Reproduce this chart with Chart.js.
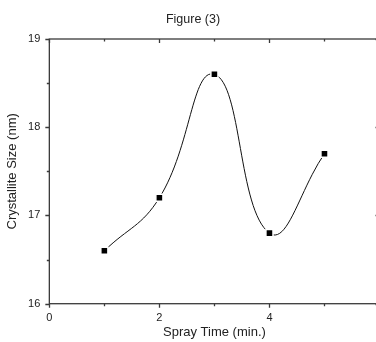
<!DOCTYPE html>
<html>
<head>
<meta charset="utf-8">
<script src="https://cdn.jsdelivr.net/npm/chart.js@4/dist/chart.umd.min.js"></script>
<style>
  html, body { margin: 0; padding: 0; background: #fff; overflow: hidden; }
  #wrap { width: 386px; height: 342px; }
</style>
</head>
<body>
<div id="wrap"><canvas id="chart"></canvas></div>
<script>
// Figure (3): crystallite size vs spray time
const sprayTime = [1, 2, 3, 4, 5];
const crystalliteSize = [16.6, 17.2, 18.6, 16.8, 17.7];
const xLabels = [0, 2, 4, 6];
const yLabels = [16, 17, 18, 19];

// box round the plot, ticks out on bottom/left, in on top/right
const frame = {
  id: 'frame',
  afterDatasetsDraw(chart) {
    const { ctx, chartArea: a, scales: { x, y } } = chart;
    ctx.save();
    ctx.strokeStyle = '#3a3a3a';
    ctx.lineWidth = 1.3;
    ctx.strokeRect(a.left, a.top, a.right - a.left, a.bottom - a.top);
    ctx.beginPath();
    x.ticks.forEach((t, i) => {
      const px = Math.round(x.getPixelForTick(i)) + 0.5;
      const len = xLabels.includes(t.value) ? 4 : 2.5;
      ctx.moveTo(px, a.bottom); ctx.lineTo(px, a.bottom + len);
      ctx.moveTo(px, a.top); ctx.lineTo(px, a.top + len);
    });
    y.ticks.forEach((t, i) => {
      const py = Math.round(y.getPixelForTick(i)) + 0.5;
      const len = yLabels.includes(t.value) ? 4 : 2.5;
      ctx.moveTo(a.left, py); ctx.lineTo(a.left - len, py);
      ctx.moveTo(a.right, py); ctx.lineTo(a.right - len, py);
    });
    ctx.stroke();
    ctx.restore();
  }
};

new Chart(document.getElementById('chart'), {
  type: 'line',
  data: {
    datasets: [{
      data: sprayTime.map((t, i) => ({ x: t, y: crystalliteSize[i] })),
      borderColor: '#111',
      borderWidth: 1,
      tension: 0.45,
      pointStyle: 'rect',
      pointRadius: 5,
      pointBackgroundColor: '#000',
      pointBorderColor: '#fff',
      pointBorderWidth: 1.5
    }]
  },
  plugins: [frame],
  options: {
    responsive: true,
    maintainAspectRatio: false,
    animation: false,
    layout: { padding: 0 },
    plugins: {
      legend: { display: false },
      tooltip: { enabled: false },
      title: {
        display: true,
        text: 'Figure (3)',
        color: '#222',
        font: { family: 'Liberation Sans', size: 12.5, weight: 'normal' },
        padding: { top: 12, bottom: 12 }
      }
    },
    scales: {
      x: {
        type: 'linear',
        min: 0,
        max: 6,
        // grid hidden; tickLength only reserves room, the frame plugin draws the marks
        grid: { display: false, drawTicks: true, tickLength: 8 },
        border: { display: false },
        ticks: {
          stepSize: 1,
          padding: 0,
          color: '#222',
          font: { family: 'Liberation Sans', size: 11 },
          callback: v => xLabels.includes(v) ? String(v) : ''
        },
        title: {
          display: true,
          text: 'Spray Time (min.)',
          color: '#222',
          font: { family: 'Liberation Sans', size: 13 },
          padding: { top: 0, bottom: 1.5 }
        }
      },
      y: {
        min: 16,
        max: 19,
        grid: { display: false, drawTicks: true, tickLength: 8 },
        border: { display: false },
        ticks: {
          stepSize: 0.5,
          padding: 1,
          color: '#222',
          font: { family: 'Liberation Sans', size: 11 },
          callback: v => yLabels.includes(v) ? String(v) : ''
        },
        title: {
          display: true,
          text: 'Crystallite Size (nm)',
          color: '#222',
          font: { family: 'Liberation Sans', size: 13 },
          padding: { top: 5, bottom: 6.5 }
        }
      }
    }
  }
});
</script>
</body>
</html>
